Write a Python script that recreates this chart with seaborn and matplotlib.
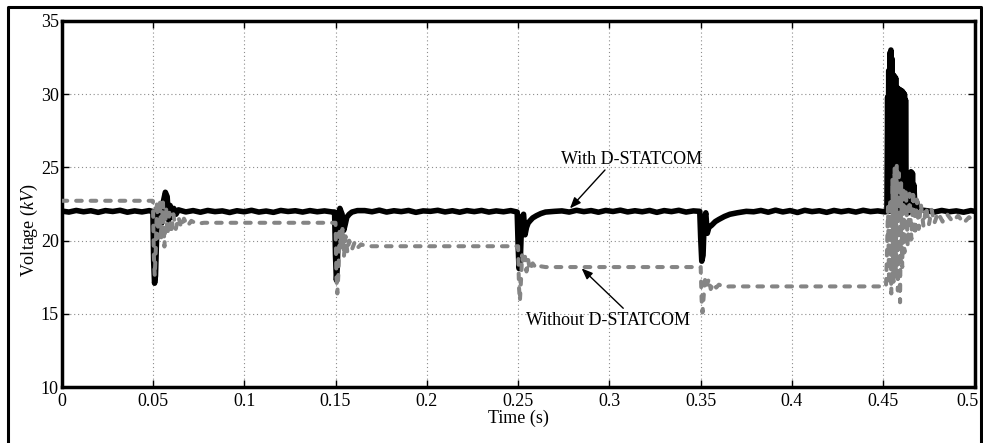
import matplotlib
matplotlib.use("Agg")
import matplotlib.pyplot as plt
import matplotlib.transforms as mtransforms
from matplotlib.lines import Line2D
import seaborn as sns

# ---- data -------------------------------------------------------------
# Time (s) / voltage (kV) with the D-STATCOM in service
t_with = [
    0.000, 0.004, 0.008, 0.012, 0.016, 0.020, 0.024, 0.028, 0.032, 0.036, 0.040, 0.044, 0.048,
    0.0495, 0.0500, 0.0504, 0.0509, 0.0514, 0.0519, 0.0525, 0.0532, 0.0540, 0.0548, 0.0556,
    0.0568, 0.0578, 0.0586, 0.0594, 0.0604, 0.0614, 0.0626, 0.0640,
    0.068, 0.072, 0.076, 0.080, 0.084, 0.088, 0.092, 0.096, 0.100, 0.104, 0.108, 0.112,
    0.116, 0.120, 0.124, 0.128, 0.132, 0.136, 0.140, 0.144, 0.148,
    0.1495, 0.1500, 0.1505, 0.1510, 0.1516, 0.1524, 0.1536, 0.1545, 0.1553, 0.1562, 0.1575,
    0.1590, 0.1620,
    0.166, 0.170, 0.174, 0.178, 0.182, 0.186, 0.190, 0.194, 0.198, 0.202, 0.206, 0.210,
    0.214, 0.218, 0.222, 0.226, 0.230, 0.234, 0.238, 0.242, 0.246,
    0.2495, 0.2500, 0.2505, 0.2512, 0.2520, 0.2530, 0.2538, 0.2546, 0.2555, 0.2565, 0.2580,
    0.2600, 0.2625, 0.2650, 0.2700,
    0.274, 0.278, 0.282, 0.286, 0.290, 0.294, 0.298, 0.302, 0.306, 0.310, 0.314, 0.318,
    0.322, 0.326, 0.330, 0.334, 0.338, 0.342, 0.346,
    0.3495, 0.3500, 0.3506, 0.3513, 0.3520, 0.3528, 0.3536, 0.3545, 0.3560, 0.3580, 0.3600,
    0.3630, 0.3660, 0.3700, 0.3750,
    0.379, 0.383, 0.387, 0.391, 0.395, 0.399, 0.403, 0.407, 0.411, 0.415, 0.419, 0.423,
    0.427, 0.431, 0.435, 0.439, 0.443, 0.447, 0.451,
    0.4520, 0.4524, 0.4527, 0.4530, 0.4533, 0.4536, 0.4539, 0.4542, 0.4545, 0.4548, 0.4552,
    0.4556, 0.4559, 0.4562, 0.4565, 0.4568, 0.4571, 0.4574, 0.4577, 0.4580, 0.4583, 0.4586,
    0.4589, 0.4592, 0.4595, 0.4598, 0.4601, 0.4604, 0.4607, 0.4610, 0.4613, 0.4616, 0.4619,
    0.4622, 0.4626, 0.4632, 0.4638, 0.4644, 0.4648, 0.4652, 0.4656, 0.4660, 0.4664, 0.4668,
    0.4674, 0.4682, 0.4690, 0.4700,
    0.474, 0.478, 0.482, 0.486, 0.490, 0.494, 0.498, 0.500,
]
kv_with = [
    22.02, 21.95, 22.06, 21.97, 22.04, 21.93, 22.05, 21.99, 22.07, 21.94, 22.03, 21.96, 22.05,
    22.0, 21.9, 18.6, 17.1, 17.6, 19.8, 22.3, 21.3, 22.4, 21.2, 22.6,
    23.3, 23.0, 21.4, 22.4, 21.6, 22.2, 21.8, 22.1,
    21.96, 22.05, 21.94, 22.06, 21.98, 22.03, 21.92, 22.04, 21.97, 22.07, 21.95, 22.02,
    21.93, 22.06, 21.99, 22.04, 21.95, 22.05, 21.97, 22.03, 21.96,
    21.95, 19.0, 17.3, 18.2, 21.6, 22.2, 21.8, 20.7, 21.1, 21.6, 21.8,
    21.95, 22.05,
    22.05, 21.97, 22.08, 21.95, 22.04, 21.98, 22.06, 21.93, 22.03, 22.00, 22.07, 21.96,
    22.04, 21.94, 22.05, 21.98, 22.06, 21.95, 22.03, 21.97, 22.05,
    21.95, 19.8, 18.1, 18.6, 21.6, 21.8, 20.4, 20.9, 21.2, 21.35, 21.55,
    21.7, 21.85, 21.95, 22.0,
    22.03, 21.95, 22.07, 21.98, 22.05, 21.94, 22.06, 21.99, 22.08, 21.96, 22.04, 21.97,
    22.06, 21.93, 22.05, 21.98, 22.07, 21.95, 22.03,
    22.0, 20.2, 18.6, 19.0, 21.5, 21.9, 20.5, 20.9, 21.05, 21.3, 21.45,
    21.65, 21.8, 21.9, 22.0,
    21.97, 22.06, 21.94, 22.08, 21.96, 22.05, 21.92, 22.07, 21.98, 22.04, 21.93, 22.06,
    21.97, 22.05, 21.95, 22.07, 21.98, 22.03, 21.96,
    22.0, 29.8, 22.1, 31.6, 22.0, 32.8, 22.2, 33.0, 22.1, 32.4, 22.0,
    31.3, 22.2, 31.2, 22.0, 31.1, 22.1, 30.4, 22.0, 30.4, 22.2, 30.3,
    22.0, 30.3, 22.1, 30.2, 22.0, 30.2, 22.1, 30.1, 22.0, 30.0, 22.2,
    29.6, 22.0, 22.6, 21.9, 24.3, 22.0, 24.7, 22.1, 24.6, 22.0, 23.8,
    22.1, 22.7, 21.9, 22.1,
    22.04, 21.95, 22.06, 21.97, 22.03, 21.94, 22.05, 22.0,
]

# Time (s) / voltage (kV) without the D-STATCOM
t_without = [
    0.000, 0.0498,
    0.0500, 0.0505, 0.0510, 0.0516, 0.0522, 0.0530, 0.0538, 0.0546, 0.0555, 0.0563, 0.0572,
    0.0580, 0.0590, 0.0600, 0.0612, 0.0625, 0.0640, 0.0655, 0.0670, 0.0690, 0.0710, 0.0740,
    0.0780, 0.1495,
    0.1500, 0.1505, 0.1510, 0.1516, 0.1522, 0.1530, 0.1538, 0.1546, 0.1555, 0.1565, 0.1575,
    0.1590, 0.1605, 0.1620, 0.1640, 0.1670, 0.2495,
    0.2500, 0.2505, 0.2510, 0.2516, 0.2522, 0.2530, 0.2538, 0.2546, 0.2555, 0.2565, 0.2580,
    0.2600, 0.2625, 0.2650, 0.3495,
    0.3500, 0.3505, 0.3510, 0.3517, 0.3525, 0.3535, 0.3545, 0.3555, 0.3570, 0.3585, 0.3600,
    0.3630, 0.3660, 0.4515,
    0.4520, 0.4526, 0.4532, 0.4538, 0.4544, 0.4550, 0.4556, 0.4562, 0.4568, 0.4574, 0.4580,
    0.4586, 0.4592, 0.4598, 0.4604, 0.4610, 0.4616, 0.4624, 0.4634, 0.4644, 0.4654, 0.4664,
    0.4674, 0.4684, 0.4694, 0.4706, 0.4720, 0.4735, 0.4750, 0.4765, 0.4780, 0.4800, 0.4825,
    0.4850, 0.4880, 0.4910, 0.4940, 0.4970, 0.5000,
]
kv_without = [
    22.72, 22.72,
    22.7, 19.0, 17.6, 19.5, 22.7, 20.2, 22.8, 20.1, 22.6, 19.6, 22.3,
    20.4, 21.9, 20.5, 21.8, 20.8, 21.6, 20.9, 21.5, 21.0, 21.35, 21.15,
    21.22, 21.22,
    21.22, 17.5, 16.4, 17.8, 20.6, 19.4, 20.8, 18.9, 20.3, 19.2, 20.0,
    19.4, 19.9, 19.5, 19.75, 19.62, 19.62,
    19.62, 16.8, 15.9, 17.3, 19.0, 18.4, 18.9, 17.9, 18.7, 18.0, 18.45,
    18.1, 18.25, 18.2, 18.2,
    18.2, 16.0, 15.1, 16.3, 17.5, 17.0, 17.4, 16.7, 17.1, 16.8, 17.0,
    16.85, 16.88, 16.88,
    19.0, 22.3, 17.0, 22.8, 16.4, 24.2, 17.2, 25.0, 17.4, 25.2, 16.6,
    24.6, 15.8, 24.0, 18.2, 23.6, 19.2, 23.5, 19.6, 23.2, 20.1, 23.4,
    20.4, 22.8, 20.8, 22.5, 21.0, 22.3, 21.1, 22.1, 21.2, 21.9, 21.3,
    21.8, 21.3, 21.7, 21.2, 21.6, 21.3,
]

x_ticks = [0, 0.05, 0.1, 0.15, 0.2, 0.25, 0.3, 0.35, 0.4, 0.45, 0.5]
x_tick_labels = ["0", "0.05", "0.1", "0.15", "0.2", "0.25", "0.3", "0.35", "0.4", "0.45", "0.5"]
y_ticks = [10, 15, 20, 25, 30, 35]
y_tick_labels = ["10", "15", "20", "25", "30", "35"]

# ---- style ------------------------------------------------------------
sns.set_theme(style="white")
plt.rcParams["font.family"] = ["Liberation Serif", "DejaVu Serif"]
plt.rcParams["mathtext.fontset"] = "custom"
plt.rcParams["mathtext.rm"] = "Liberation Serif"
plt.rcParams["mathtext.it"] = "Liberation Serif:italic"

fig = plt.figure(figsize=(9.83, 4.43), dpi=100)
fig.patch.set_facecolor("white")
ax = fig.add_axes([0.0627, 0.1257, 0.9287, 0.8276])

sns.lineplot(x=t_with, y=kv_with, ax=ax, estimator=None, sort=False,
             color="black", linewidth=4.0, solid_joinstyle="round",
             solid_capstyle="round", zorder=3)
sns.lineplot(x=t_without, y=kv_without, ax=ax, estimator=None, sort=False,
             color="#858585", linewidth=2.9, linestyle=(0, (1.4, 2.2)),
             dash_capstyle="round", zorder=4)

ax.set_xlim(0, 0.5)
ax.set_ylim(10, 35)
ax.set_xticks(x_ticks)
ax.set_xticklabels(x_tick_labels)
ax.set_yticks(y_ticks)
ax.set_yticklabels(y_tick_labels)

ax.grid(True, color="#8c8c8c", linestyle=(0, (1, 2.5)), linewidth=0.8)
ax.tick_params(axis="both", which="both", direction="in", length=5, width=1,
               top=True, right=True, bottom=True, left=True,
               labelsize=13, colors="black")
ax.tick_params(axis="x", pad=4)
ax.tick_params(axis="y", pad=2)
for sp in ax.spines.values():
    sp.set_visible(True)
    sp.set_color("black")
    sp.set_linewidth(2.5)

# keep the last tick label inside the outer frame
last = ax.get_xticklabels()[-1]
last.set_transform(last.get_transform()
                   + mtransforms.ScaledTranslation(-7 / 100, 0, fig.dpi_scale_trans))

ax.set_xlabel("Time (s)", fontsize=13, color="black")
ax.xaxis.set_label_coords(0.5, -0.062)
ax.set_ylabel("Voltage ($kV$)", fontsize=13, color="black")
ax.yaxis.set_label_coords(-0.024, 0.43)

arrow = dict(arrowstyle="-|>,head_length=0.55,head_width=0.22", color="black",
             lw=1.0, shrinkA=0, shrinkB=0)
ax.annotate("", xy=(0.2784, 22.2), xytext=(0.2976, 24.82), arrowprops=arrow, zorder=5)
ax.text(0.3124, 25.55, "With D-STATCOM", fontsize=13, ha="center", va="center",
        color="black", zorder=5)
ax.annotate("", xy=(0.2848, 18.11), xytext=(0.3076, 15.39), arrowprops=arrow, zorder=5)
ax.text(0.299, 14.55, "Without D-STATCOM", fontsize=13, ha="center", va="center",
        color="black", zorder=5)

# outer frame around the figure
x0, x1, ytop = 8 / 983, 981 / 983, 1 - 7 / 443
fig.add_artist(Line2D([x0, x0, x1, x1], [-0.05, ytop, ytop, -0.05],
                      transform=fig.transFigure, color="black", linewidth=2.2))

fig.savefig("out.png", dpi=100, facecolor="white")
